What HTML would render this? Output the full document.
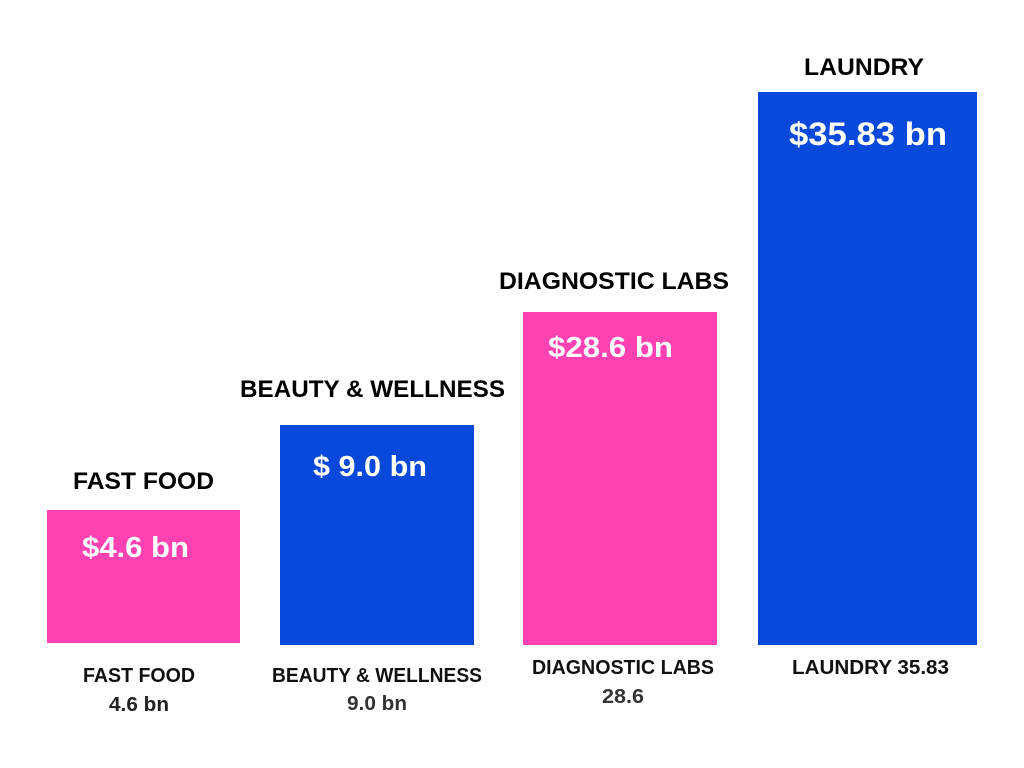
<!DOCTYPE html>
<html><head><meta charset="utf-8"><style>
html,body{margin:0;padding:0;background:#fff;}
svg{display:block;}
text{font-family:"Liberation Sans",Arial,sans-serif;font-weight:bold;}
</style></head><body>
<svg width="1024" height="768" viewBox="0 0 1024 768" xmlns="http://www.w3.org/2000/svg">
<rect width="1024" height="768" fill="#fff"/>
<!-- bars -->
<rect x="47" y="510" width="193" height="133" fill="#FF41B1"/>
<rect x="280" y="425" width="194" height="220" fill="#0848DA"/>
<rect x="523" y="312" width="194" height="333" fill="#FF41B1"/>
<rect x="758" y="92" width="219" height="553" fill="#0848DA"/>

<!-- headings -->
<text x="73" y="489" font-size="24" fill="#000" textLength="141" lengthAdjust="spacingAndGlyphs">FAST FOOD</text>
<text x="240" y="397" font-size="24" fill="#000" textLength="265" lengthAdjust="spacingAndGlyphs">BEAUTY &amp; WELLNESS</text>
<text x="499" y="289" font-size="24" fill="#000" textLength="230" lengthAdjust="spacingAndGlyphs">DIAGNOSTIC LABS</text>
<text x="804" y="75" font-size="24" fill="#000" textLength="120" lengthAdjust="spacingAndGlyphs">LAUNDRY</text>

<!-- values on bars -->
<text x="82" y="557" font-size="29" fill="#fff" textLength="107" lengthAdjust="spacingAndGlyphs">$4.6 bn</text>
<text x="313" y="476" font-size="29" fill="#fff" textLength="114" lengthAdjust="spacingAndGlyphs">$ 9.0 bn</text>
<text x="548" y="357" font-size="29" fill="#fff" textLength="125" lengthAdjust="spacingAndGlyphs">$28.6 bn</text>
<text x="789" y="145" font-size="32" fill="#fff" textLength="158" lengthAdjust="spacingAndGlyphs">$35.83 bn</text>

<!-- bottom labels -->
<text x="83" y="682" font-size="20" fill="#111" textLength="112" lengthAdjust="spacingAndGlyphs">FAST FOOD</text>
<text x="109" y="711" font-size="20" fill="#222" textLength="60" lengthAdjust="spacingAndGlyphs">4.6 bn</text>
<text x="272" y="682" font-size="20" fill="#111" textLength="210" lengthAdjust="spacingAndGlyphs">BEAUTY &amp; WELLNESS</text>
<text x="347" y="710" font-size="20" fill="#333" textLength="60" lengthAdjust="spacingAndGlyphs">9.0 bn</text>
<text x="532" y="674" font-size="20" fill="#111" textLength="182" lengthAdjust="spacingAndGlyphs">DIAGNOSTIC LABS</text>
<text x="602" y="703" font-size="20" fill="#333" textLength="42" lengthAdjust="spacingAndGlyphs">28.6</text>
<text x="792" y="674" font-size="20" fill="#111" textLength="157" lengthAdjust="spacingAndGlyphs">LAUNDRY 35.83</text>
</svg>
</body></html>
